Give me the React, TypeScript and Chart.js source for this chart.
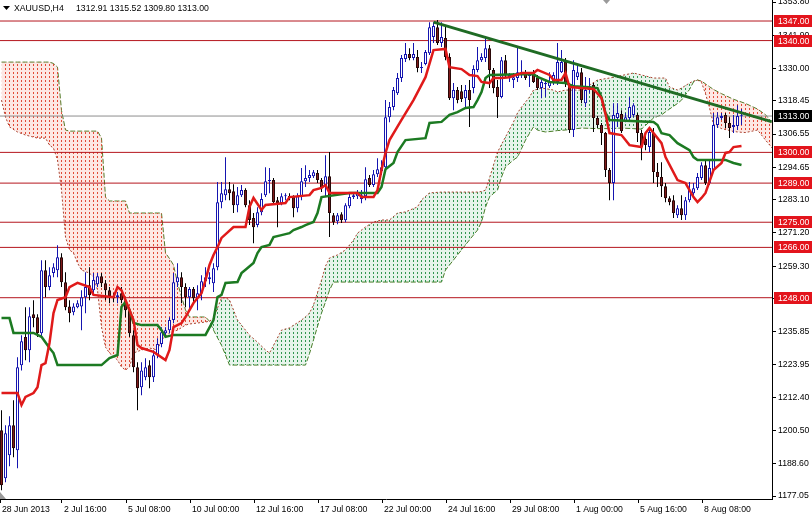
import React, { useEffect, useRef } from 'react';
import { Chart, registerables } from 'chart.js';

Chart.register(...registerables);

const FONT = "'Liberation Sans', Arial, sans-serif";
const SYMBOL = 'XAUUSD,H4';

const OPEN = [
  1200.6, 1183.4, 1191.6, 1202.4, 1193.4, 1223.8, 1233.9, 1229.2, 1242.1, 1241.0,
  1235.3, 1257.8, 1251.8, 1256.8, 1257.8, 1262.5, 1253.5, 1244.9, 1242.8, 1244.6,
  1244.9, 1248.2, 1252.5, 1250.7, 1252.8, 1255.7, 1253.2, 1250.7, 1248.5, 1248.2,
  1249.6, 1247.1, 1243.5, 1234.6, 1223.1, 1216.0, 1219.5, 1223.8, 1219.5, 1227.4,
  1231.4, 1235.3, 1236.4, 1240.0, 1253.5, 1255.3, 1251.8, 1248.2, 1251.1, 1247.8,
  1249.6, 1253.9, 1254.6, 1253.2, 1258.9, 1282.2, 1284.7, 1286.8, 1286.1, 1281.1,
  1284.7, 1286.5, 1281.1, 1276.5, 1274.0, 1278.6, 1284.7, 1289.7, 1290.1, 1282.9,
  1281.8, 1284.3, 1284.3, 1284.0, 1280.0, 1284.3, 1289.7, 1290.8, 1291.5, 1292.6,
  1290.1, 1287.9, 1291.5, 1277.5, 1275.4, 1277.9, 1275.7, 1280.7, 1284.0, 1284.3,
  1283.3, 1284.3, 1290.8, 1288.3, 1292.2, 1293.3, 1294.7, 1312.6, 1316.2, 1321.2,
  1326.6, 1333.4, 1335.2, 1333.8, 1334.1, 1330.2, 1331.6, 1335.5, 1341.3, 1344.8,
  1339.1, 1340.9, 1334.1, 1319.4, 1322.3, 1321.9, 1319.4, 1322.3, 1323.0, 1329.5,
  1333.0, 1333.8, 1337.3, 1329.5, 1323.4, 1319.8, 1333.0, 1326.9, 1325.9, 1326.6,
  1327.7, 1328.7, 1327.3, 1328.4, 1326.9, 1323.0, 1324.4, 1323.7, 1324.8, 1325.2,
  1328.7, 1332.3, 1324.1, 1308.0, 1327.0, 1328.7, 1317.6, 1322.3, 1324.1, 1312.3,
  1309.8, 1306.9, 1293.7, 1289.0, 1312.3, 1313.7, 1311.2, 1312.3, 1313.4, 1313.4,
  1306.9, 1304.8, 1301.9, 1306.9, 1293.0, 1291.2, 1287.9, 1283.6, 1282.9, 1277.5,
  1280.0, 1277.5, 1282.9, 1285.4, 1287.2, 1290.8, 1295.4, 1289.0, 1293.7, 1309.8,
  1312.3, 1313.4, 1310.5, 1309.1, 1309.4, 1312.91,
];
const HIGH = [
  1207.7, 1202.4, 1205.6, 1211.3, 1226.7, 1234.6, 1244.6, 1244.6, 1247.1, 1242.1,
  1261.4, 1261.4, 1258.9, 1260.3, 1266.8, 1263.9, 1257.1, 1247.1, 1246.0, 1247.1,
  1250.7, 1257.1, 1258.9, 1256.8, 1256.8, 1256.8, 1254.3, 1251.8, 1249.6, 1250.0,
  1251.8, 1248.2, 1244.6, 1236.4, 1224.9, 1224.9, 1226.3, 1225.6, 1229.2, 1233.5,
  1237.4, 1237.4, 1241.0, 1256.8, 1260.3, 1257.1, 1253.2, 1251.8, 1251.8, 1252.5,
  1256.0, 1258.9, 1257.1, 1260.3, 1289.4, 1289.4, 1298.3, 1289.4, 1288.6, 1287.6,
  1288.3, 1287.2, 1282.9, 1278.3, 1280.4, 1285.4, 1294.7, 1294.4, 1290.8, 1284.0,
  1285.4, 1285.4, 1285.4, 1284.7, 1285.4, 1294.4, 1295.4, 1293.7, 1293.7, 1293.7,
  1290.8, 1299.0, 1300.1, 1278.3, 1278.3, 1278.6, 1281.8, 1285.4, 1285.8, 1286.5,
  1286.5, 1294.7, 1291.9, 1293.7, 1297.9, 1297.2, 1318.7, 1318.0, 1323.4, 1328.4,
  1334.8, 1339.1, 1337.3, 1339.1, 1336.6, 1332.3, 1336.6, 1346.6, 1346.6, 1347.4,
  1346.6, 1345.6, 1335.5, 1324.8, 1323.4, 1324.1, 1324.1, 1325.9, 1331.2, 1337.7,
  1335.5, 1340.9, 1338.4, 1330.2, 1325.9, 1334.1, 1334.8, 1328.4, 1328.4, 1337.7,
  1333.0, 1329.5, 1328.7, 1329.5, 1327.7, 1325.9, 1325.9, 1328.7, 1328.7, 1339.1,
  1336.6, 1333.8, 1324.8, 1333.0, 1331.2, 1330.2, 1327.0, 1326.6, 1324.8, 1313.0,
  1310.5, 1307.3, 1294.4, 1317.6, 1317.6, 1315.1, 1314.1, 1319.8, 1317.6, 1314.1,
  1308.0, 1306.2, 1309.1, 1308.7, 1296.2, 1296.5, 1289.0, 1284.3, 1284.7, 1281.1,
  1284.7, 1284.0, 1289.4, 1289.0, 1292.6, 1296.5, 1297.2, 1297.2, 1314.1, 1314.4,
  1314.1, 1314.1, 1312.6, 1313.4, 1316.9, 1315.52,
];
const LOW = [
  1179.1, 1182.0, 1187.7, 1190.9, 1187.0, 1222.0, 1225.6, 1224.9, 1237.4, 1233.9,
  1233.9, 1248.2, 1250.7, 1255.3, 1255.3, 1251.8, 1243.5, 1239.2, 1241.7, 1244.2,
  1236.4, 1242.4, 1247.1, 1249.6, 1251.8, 1251.8, 1247.1, 1246.0, 1246.4, 1246.0,
  1246.0, 1241.0, 1233.9, 1221.3, 1207.7, 1213.1, 1218.5, 1215.6, 1217.8, 1226.3,
  1230.3, 1233.9, 1235.3, 1238.9, 1251.8, 1246.0, 1244.6, 1243.5, 1246.0, 1243.5,
  1247.1, 1251.8, 1252.8, 1250.0, 1257.8, 1280.0, 1282.9, 1282.9, 1278.3, 1278.6,
  1284.0, 1280.4, 1274.0, 1267.5, 1273.2, 1277.5, 1284.0, 1285.4, 1281.5, 1273.2,
  1281.1, 1282.9, 1282.9, 1276.8, 1278.6, 1282.9, 1287.6, 1289.4, 1290.8, 1289.0,
  1285.8, 1284.0, 1269.7, 1274.0, 1274.3, 1274.7, 1275.0, 1280.0, 1283.3, 1283.3,
  1281.8, 1282.9, 1287.6, 1287.6, 1291.2, 1291.9, 1293.7, 1310.8, 1315.1, 1320.5,
  1325.2, 1332.3, 1333.0, 1333.0, 1328.7, 1328.4, 1331.2, 1334.8, 1339.1, 1338.4,
  1337.7, 1333.0, 1318.7, 1315.1, 1317.6, 1318.0, 1316.2, 1309.1, 1321.2, 1328.7,
  1332.3, 1332.3, 1323.0, 1321.2, 1312.3, 1319.4, 1326.9, 1325.2, 1323.0, 1325.2,
  1326.6, 1325.9, 1323.4, 1324.8, 1322.3, 1319.4, 1319.8, 1323.0, 1324.1, 1324.1,
  1328.4, 1323.4, 1306.9, 1305.5, 1325.9, 1317.6, 1316.2, 1321.2, 1307.3, 1308.7,
  1302.6, 1291.2, 1282.9, 1282.9, 1309.1, 1306.9, 1310.8, 1311.6, 1312.6, 1303.7,
  1297.2, 1300.8, 1300.1, 1289.0, 1287.6, 1284.0, 1282.2, 1281.1, 1276.5, 1276.5,
  1275.8, 1275.8, 1282.2, 1284.0, 1286.5, 1290.1, 1288.3, 1288.3, 1293.0, 1308.7,
  1311.6, 1308.7, 1305.1, 1306.9, 1308.0, 1309.80,
];
const CLOSE = [
  1180.9, 1199.5, 1202.4, 1194.1, 1223.1, 1232.4, 1229.2, 1241.4, 1240.7, 1235.3,
  1257.8, 1251.8, 1256.0, 1258.9, 1262.5, 1253.5, 1244.6, 1242.4, 1244.9, 1246.0,
  1248.2, 1251.8, 1248.9, 1254.3, 1255.7, 1253.2, 1250.7, 1248.5, 1247.8, 1248.9,
  1247.1, 1243.5, 1235.3, 1223.1, 1215.6, 1222.0, 1223.1, 1219.5, 1227.4, 1231.4,
  1235.6, 1236.4, 1240.0, 1253.5, 1255.3, 1251.8, 1248.2, 1251.1, 1247.8, 1249.6,
  1253.9, 1255.3, 1255.3, 1258.5, 1282.2, 1285.4, 1286.8, 1285.4, 1281.1, 1284.7,
  1286.5, 1281.1, 1275.8, 1273.2, 1278.6, 1283.3, 1289.7, 1290.1, 1282.2, 1281.8,
  1284.3, 1284.7, 1284.0, 1280.0, 1284.3, 1289.7, 1290.8, 1291.9, 1292.9, 1290.1,
  1287.6, 1291.5, 1278.3, 1275.0, 1277.5, 1275.7, 1281.1, 1284.0, 1284.7, 1285.4,
  1284.7, 1290.4, 1288.3, 1292.2, 1294.0, 1294.7, 1312.6, 1316.2, 1322.3, 1326.6,
  1333.8, 1335.2, 1333.8, 1335.2, 1330.2, 1330.5, 1335.9, 1344.8, 1345.2, 1339.1,
  1341.3, 1334.1, 1319.4, 1322.3, 1318.7, 1319.1, 1322.3, 1318.7, 1329.8, 1333.0,
  1334.1, 1337.3, 1329.5, 1323.0, 1319.8, 1333.0, 1327.7, 1327.7, 1326.9, 1328.7,
  1328.7, 1326.6, 1327.7, 1325.2, 1323.0, 1325.2, 1324.8, 1325.2, 1327.7, 1332.3,
  1332.3, 1324.8, 1308.0, 1329.5, 1328.7, 1318.7, 1322.3, 1323.7, 1312.3, 1309.8,
  1306.9, 1293.7, 1289.0, 1313.4, 1314.1, 1307.6, 1312.6, 1316.2, 1316.9, 1306.9,
  1301.9, 1302.6, 1307.3, 1293.0, 1291.2, 1287.9, 1283.6, 1282.2, 1278.3, 1280.0,
  1277.5, 1282.9, 1286.5, 1287.2, 1291.2, 1295.4, 1289.0, 1294.4, 1309.8, 1312.6,
  1313.0, 1310.5, 1308.7, 1309.8, 1313.0, 1313.00,
];

const TENKAN_X = [
  0, 4, 5, 6, 8, 9, 10, 11, 12, 13,
  14, 16, 17, 19, 22, 23, 28, 29, 30, 31,
  33, 34, 35, 38, 41, 42, 43, 45, 46, 48,
  50, 51, 52, 53, 54, 55, 58, 61, 62, 63,
  65, 66, 71, 72, 77, 78, 80, 81, 82, 89,
  90, 93, 94, 95, 96, 97, 100, 103, 106, 108,
  111, 112, 115, 117, 119, 120, 122, 123, 125, 127,
  130, 133, 134, 137, 138, 140, 141, 142, 145, 148,
  150, 151, 152, 155, 157, 160, 161, 162, 163, 165,
  166, 169, 171, 173, 174, 175, 176, 178, 180, 181,
  182, 183, 185,
];
const TENKAN_Y = [
  1213.9, 1213.9, 1209.6, 1212.5, 1213.9, 1216.0, 1223.9, 1224.6, 1231.8, 1242.5,
  1247.2, 1248.2, 1251.8, 1253.3, 1251.8, 1249.0, 1248.2, 1251.8, 1250.7, 1247.2,
  1240.0, 1231.1, 1230.0, 1228.6, 1225.7, 1229.3, 1237.5, 1238.9, 1241.1, 1246.1,
  1249.6, 1254.3, 1259.7, 1263.3, 1266.1, 1269.4, 1273.3, 1273.3, 1280.5, 1283.7,
  1279.4, 1281.2, 1281.9, 1284.0, 1284.7, 1286.5, 1287.3, 1288.3, 1285.5, 1285.5,
  1284.0, 1284.0, 1286.5, 1293.7, 1299.8, 1304.4, 1311.6, 1318.7, 1326.9, 1336.6,
  1337.0, 1330.5, 1329.8, 1327.7, 1327.3, 1325.2, 1324.8, 1326.6, 1326.6, 1326.9,
  1328.4, 1328.4, 1329.5, 1327.7, 1325.9, 1325.9, 1328.4, 1323.4, 1323.0, 1322.7,
  1319.4, 1313.7, 1306.9, 1306.2, 1302.6, 1301.9, 1306.9, 1308.7, 1306.9, 1303.3,
  1298.3, 1290.1, 1289.0, 1284.0, 1282.2, 1283.7, 1285.5, 1293.7, 1296.2, 1299.8,
  1300.1, 1301.9, 1302.3,
];

const KIJUN_X = [
  0, 2, 3, 8, 10, 12, 13, 14, 25, 27,
  29, 30, 31, 32, 33, 35, 39, 40, 41, 43,
  51, 53, 54, 55, 56, 59, 60, 61, 63, 64,
  65, 67, 68, 70, 72, 73, 75, 76, 78, 79,
  80, 87, 94, 95, 96, 98, 99, 101, 106, 107,
  110, 112, 114, 116, 118, 119, 120, 121, 122, 133,
  134, 137, 141, 143, 146, 149, 150, 151, 152, 163,
  164, 165, 167, 169, 172, 173, 174, 181, 183, 185,
];
const KIJUN_Y = [
  1240.7, 1240.7, 1235.4, 1235.4, 1234.0, 1230.0, 1228.2, 1223.9, 1223.9, 1226.4,
  1227.5, 1244.7, 1246.5, 1243.6, 1239.0, 1238.2, 1238.2, 1236.4, 1234.0, 1234.7,
  1234.7, 1240.0, 1248.2, 1249.0, 1253.3, 1253.6, 1256.8, 1258.0, 1260.4, 1264.0,
  1266.1, 1266.9, 1269.7, 1270.4, 1271.1, 1272.2, 1273.3, 1274.0, 1275.1, 1278.3,
  1284.0, 1285.5, 1285.5, 1287.6, 1294.0, 1296.2, 1300.1, 1304.4, 1305.1, 1310.5,
  1310.9, 1313.4, 1314.4, 1315.9, 1316.2, 1318.7, 1321.6, 1326.6, 1327.7, 1328.0,
  1327.0, 1325.2, 1324.8, 1323.7, 1323.4, 1323.0, 1319.8, 1314.1, 1311.6, 1310.9,
  1309.8, 1306.9, 1306.2, 1303.3, 1300.8, 1298.3, 1297.3, 1297.3, 1296.2, 1295.5,
];

const CLOUD_X = [
  0, 1, 2, 4, 6, 9, 11, 12, 13, 14,
  15, 16, 17, 18, 19, 20, 22, 23, 24, 25,
  26, 27, 29, 30, 31, 32, 33, 35, 37, 39,
  40, 41, 42, 43, 44, 46, 47, 51, 52, 53,
  55, 56, 57, 59, 62, 64, 66, 67, 70, 72,
  75, 76, 77, 78, 80, 81, 82, 83, 84, 86,
  88, 89, 91, 93, 95, 97, 99, 101, 104, 105,
  107, 110, 111, 113, 115, 117, 119, 120, 121, 122,
  123, 124, 125, 126, 128, 129, 130, 131, 132, 133,
  134, 135, 136, 138, 139, 141, 145, 149, 152, 155,
  158, 160, 163, 165, 166, 167, 169, 170, 172, 173,
  174, 175, 176, 177, 178, 180, 183, 184, 186, 189,
  191, 193,
];
const SPAN_A = [
  1318.7, 1312.6, 1309.1, 1307.3, 1306.2, 1305.1, 1305.1, 1302.6, 1301.5, 1297.3,
  1286.5, 1269.7, 1265.1, 1264.0, 1260.4, 1257.9, 1256.8, 1255.4, 1250.8, 1237.5,
  1230.3, 1228.2, 1225.7, 1223.2, 1222.1, 1223.2, 1228.2, 1229.3, 1230.0, 1229.3,
  1232.9, 1234.2, 1235.4, 1235.9, 1236.4, 1238.2, 1238.6, 1239.3, 1239.6, 1240.7,
  1247.9, 1248.0, 1247.2, 1240.0, 1234.6, 1232.1, 1229.3, 1228.2, 1236.4, 1237.2,
  1240.0, 1241.2, 1242.5, 1245.4, 1254.3, 1259.3, 1262.2, 1262.8, 1263.3, 1265.1,
  1268.6, 1271.1, 1273.3, 1275.1, 1275.8, 1275.8, 1278.3, 1278.7, 1280.5, 1283.0,
  1285.5, 1285.8, 1285.8, 1285.8, 1285.8, 1285.8, 1285.8, 1286.0, 1286.5, 1290.8,
  1295.5, 1300.1, 1302.8, 1305.5, 1310.9, 1314.1, 1316.2, 1318.0, 1319.8, 1322.3,
  1322.6, 1323.0, 1322.8, 1322.3, 1321.6, 1322.3, 1322.3, 1325.9, 1326.6, 1327.5,
  1328.4, 1327.7, 1326.6, 1326.6, 1326.6, 1323.4, 1322.3, 1323.0, 1324.8, 1325.5,
  1325.9, 1325.0, 1321.0, 1316.0, 1310.0, 1308.5, 1307.5, 1307.3, 1307.1, 1308.0,
  1304.4, 1301.0,
];
const SPAN_B = [
  1332.3, 1332.3, 1332.3, 1332.3, 1332.3, 1332.3, 1332.3, 1332.3, 1331.8, 1330.5,
  1315.0, 1308.0, 1307.6, 1307.6, 1307.6, 1307.6, 1307.6, 1307.6, 1307.6, 1305.1,
  1284.0, 1282.6, 1282.6, 1282.6, 1282.6, 1278.3, 1278.3, 1278.3, 1278.3, 1278.3,
  1278.3, 1264.0, 1262.0, 1259.7, 1253.3, 1243.6, 1241.1, 1241.1, 1239.6, 1236.4,
  1231.0, 1227.5, 1223.9, 1223.9, 1223.9, 1223.9, 1223.9, 1223.9, 1223.9, 1223.9,
  1223.9, 1223.9, 1228.0, 1232.9, 1242.5, 1246.5, 1250.7, 1253.6, 1253.6, 1253.6,
  1253.6, 1253.6, 1253.6, 1253.6, 1253.6, 1253.6, 1253.6, 1253.6, 1253.6, 1253.6,
  1253.6, 1253.6, 1257.9, 1261.5, 1265.1, 1268.7, 1272.2, 1275.1, 1280.4, 1284.0,
  1285.3, 1286.5, 1291.2, 1294.8, 1297.3, 1298.3, 1301.3, 1304.4, 1306.8, 1309.1,
  1308.0, 1307.6, 1307.3, 1307.6, 1307.8, 1308.0, 1308.7, 1308.5, 1308.5, 1308.7,
  1308.5, 1308.3, 1312.3, 1313.4, 1314.5, 1315.5, 1317.5, 1318.7, 1322.5, 1325.2,
  1325.9, 1325.5, 1324.5, 1323.5, 1322.5, 1321.0, 1319.0, 1318.5, 1317.5, 1315.5,
  1313.5, 1310.0,
];

const LEVELS = [1347.0, 1340.0, 1300.0, 1289.0, 1275.0, 1266.0, 1248.0];
const LAST_PRICE = 1313.0;
const TREND_X = [108, 192.5];
const TREND_Y = [1346.6, 1311.0];

const Y_TICKS = [
  1353.8, 1341.9, 1330.0, 1318.45, 1306.55, 1294.65, 1283.1, 1271.2,
  1259.3, 1247.75, 1235.85, 1223.95, 1212.4, 1200.5, 1188.6, 1177.05,
];
const X_TICK_LABELS = [
  '28 Jun 2013', '2 Jul 16:00', '5 Jul 08:00', '10 Jul 00:00', '12 Jul 16:00', '17 Jul 08:00',
  '22 Jul 00:00', '24 Jul 16:00', '29 Jul 08:00', '1 Aug 00:00', '5 Aug 16:00', '8 Aug 08:00',
];
const X_TICK_BARS = [-0.375, 15.125, 31.125, 47.125, 63.125, 79.125, 95.125, 111.125, 127.125, 143.125, 159.125, 175.125];

const X_MIN = -0.375;
const X_MAX = 192.625;
const Y_MIN = 1175.98;
const Y_MAX = 1354.52;

function makeDots(tint: string, dot: string) {
  const c = document.createElement('canvas');
  c.width = 4;
  c.height = 4;
  const g = c.getContext('2d')!;
  g.fillStyle = tint;
  g.fillRect(0, 0, 4, 4);
  g.fillStyle = dot;
  g.fillRect(1, 0, 1, 2);
  return g.createPattern(c, 'repeat');
}

export default function App() {
  const ref = useRef<HTMLCanvasElement>(null);

  useEffect(() => {
    document.body.style.margin = '0';
    const canvas = ref.current!;
    const greenDots = makeDots('rgba(70,170,100,0.13)', 'rgb(50,150,80)');
    const redDots = makeDots('rgba(240,110,90,0.16)', 'rgb(225,75,55)');

    const n = OPEN.length;
    const bull = OPEN.map((o, i) => CLOSE[i] >= o);
    const pts = (xs: number[], ys: number[]) => xs.map((x, i) => ({ x, y: ys[i] }));
    const cloudColor = (i0: number, i1: number) =>
      SPAN_A[i0] + SPAN_A[i1] >= SPAN_B[i0] + SPAN_B[i1] ? greenDots : redDots;

    const datasets: any[] = [];
    datasets.push({
      type: 'line', data: pts(TREND_X, TREND_Y), borderColor: '#1f6b24', borderWidth: 3,
      pointRadius: 0, order: 0,
    });
    datasets.push({
      type: 'line', data: pts(TENKAN_X, TENKAN_Y), borderColor: '#e01a1a', borderWidth: 2.5,
      pointRadius: 0, order: 1,
    });
    datasets.push({
      type: 'line', data: pts(KIJUN_X, KIJUN_Y), borderColor: '#1c7a22', borderWidth: 2.5,
      pointRadius: 0, order: 2,
    });
    datasets.push({
      type: 'bar', data: OPEN.map((o, i) => ({ x: i, y: [o, CLOSE[i]] })),
      backgroundColor: bull.map(b => (b ? '#ffffff' : '#801a1a')),
      borderColor: bull.map(b => (b ? '#1515b0' : '#2a0808')),
      borderWidth: 1, borderSkipped: false, barThickness: 3, minBarLength: 1,
      grouped: false, inflateAmount: 0, order: 3,
    });
    datasets.push({
      type: 'bar', data: LOW.map((l, i) => ({ x: i, y: [l, HIGH[i]] })),
      backgroundColor: bull.map(b => (b ? '#1515b0' : '#000000')),
      borderWidth: 0, barThickness: 1, grouped: false, inflateAmount: 0, order: 4,
    });
    LEVELS.forEach(v => {
      datasets.push({
        type: 'line', data: [{ x: -5, y: v }, { x: 200, y: v }], borderColor: '#b5161e',
        borderWidth: 1, pointRadius: 0, order: 5,
      });
    });
    datasets.push({
      type: 'line', data: [{ x: -5, y: LAST_PRICE }, { x: 200, y: LAST_PRICE }], borderColor: '#8e8e8e',
      borderWidth: 1, pointRadius: 0, order: 5,
    });
    const spanBIndex = datasets.length + 1;
    datasets.push({
      type: 'line', data: pts(CLOUD_X, SPAN_A), borderColor: '#a8412e', borderWidth: 1,
      borderDash: [2, 2], pointRadius: 0, order: 6,
      backgroundColor: redDots,
      fill: { target: spanBIndex, above: greenDots, below: redDots },
      segment: {
        backgroundColor: (c: any) => cloudColor(c.p0DataIndex, c.p1DataIndex),
      },
    });
    datasets.push({
      type: 'line', data: pts(CLOUD_X, SPAN_B), borderColor: '#4a7a24', borderWidth: 1,
      borderDash: [5, 2], pointRadius: 0, order: 7, fill: false,
    });

    const overlay = {
      id: 'overlay',
      afterDraw(chart: any) {
        const c = chart.ctx as CanvasRenderingContext2D;
        const ys = chart.scales.y;
        c.save();
        c.font = `8.7px ${FONT}`;
        c.textBaseline = 'middle';
        c.textAlign = 'left';
        LEVELS.forEach(v => {
          const py = Math.round(ys.getPixelForValue(v));
          c.fillStyle = '#e3141c';
          c.fillRect(774, py - 6, 38, 12);
          c.fillStyle = '#ffffff';
          c.fillText(v.toFixed(2), 778, py + 0.5);
        });
        const pp = Math.round(ys.getPixelForValue(LAST_PRICE));
        c.fillStyle = '#000000';
        c.fillRect(774, pp - 6, 38, 12);
        c.fillStyle = '#ffffff';
        c.fillText(LAST_PRICE.toFixed(2), 778, pp + 0.5);

        c.fillStyle = '#000000';
        c.beginPath();
        c.moveTo(3, 6);
        c.lineTo(10, 6);
        c.lineTo(6.5, 10);
        c.closePath();
        c.fill();
        c.fillText(SYMBOL, 14, 9);
        const last = n - 1;
        c.fillText(
          `${OPEN[last].toFixed(2)} ${HIGH[last].toFixed(2)} ${LOW[last].toFixed(2)} ${CLOSE[last].toFixed(2)}`,
          76, 9,
        );
        c.fillStyle = '#9a9a9a';
        c.beginPath();
        c.moveTo(603, 0);
        c.lineTo(610, 0);
        c.lineTo(606.5, 4);
        c.closePath();
        c.fill();
        c.beginPath();
        c.moveTo(0, 492);
        c.lineTo(6, 499);
        c.lineTo(0, 499);
        c.closePath();
        c.fill();
        c.restore();
      },
    };

    const zeroPad = (s: any) => {
      s.paddingLeft = 0;
      s.paddingRight = 0;
      s.paddingTop = 0;
      s.paddingBottom = 0;
    };

    const chart = new Chart(canvas, {
      type: 'line',
      data: { datasets },
      options: {
        responsive: false,
        animation: false,
        events: [],
        layout: { padding: 0 },
        plugins: { legend: { display: false }, tooltip: { enabled: false } },
        scales: {
          x: {
            type: 'linear', position: 'bottom', min: X_MIN, max: X_MAX, offset: false,
            grid: { drawOnChartArea: false, tickLength: 4, color: '#000000', offset: false },
            border: { display: true, color: '#000000', width: 1 },
            ticks: {
              autoSkip: false, maxRotation: 0, minRotation: 0, align: 'start', labelOffset: 2,
              padding: 1, color: '#000000', font: { family: FONT, size: 8.7 },
              callback: (_v: any, i: number) => X_TICK_LABELS[i],
            },
            afterBuildTicks: (s: any) => {
              s.ticks = X_TICK_BARS.map(v => ({ value: v }));
            },
            afterFit: (s: any) => {
              s.height = 17;
              zeroPad(s);
            },
          },
          y: {
            type: 'linear', position: 'right', min: Y_MIN, max: Y_MAX,
            grid: { drawOnChartArea: false, tickLength: 4, color: '#000000' },
            border: { display: true, color: '#000000', width: 1 },
            ticks: {
              padding: 2, color: '#000000', font: { family: FONT, size: 8.7 },
              callback: (v: any) => Number(v).toFixed(2),
            },
            afterBuildTicks: (s: any) => {
              s.ticks = Y_TICKS.map(v => ({ value: v }));
            },
            afterFit: (s: any) => {
              s.width = 40;
              zeroPad(s);
            },
          },
        },
      } as any,
      plugins: [overlay],
    });

    return () => chart.destroy();
  }, []);

  return (
    <div style={{ width: 812, height: 516, background: '#ffffff' }}>
      <canvas ref={ref} width={812} height={516} style={{ display: 'block', width: 812, height: 516 }} />
    </div>
  );
}
